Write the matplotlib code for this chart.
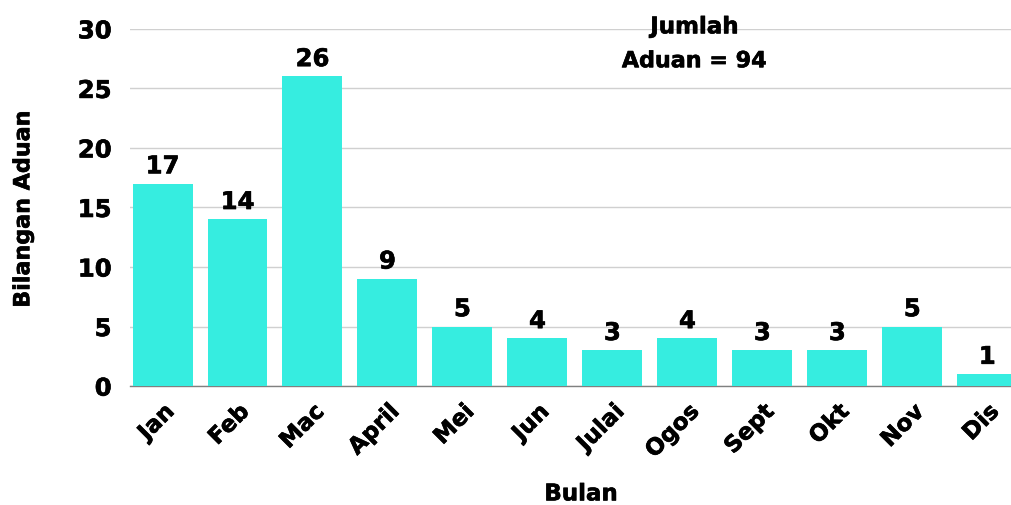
import matplotlib
matplotlib.use("Agg")
import matplotlib.pyplot as plt
import matplotlib.patheffects as pe

months = ["Jan", "Feb", "Mac", "April", "Mei", "Jun", "Julai", "Ogos", "Sept", "Okt", "Nov", "Dis"]
counts = [17, 14, 26, 9, 5, 4, 3, 4, 3, 3, 5, 1]
yticks = [0, 5, 10, 15, 20, 25, 30]

plt.rcParams['font.family'] = ['DejaVu Sans']
W = "bold"
heavy = [pe.withStroke(linewidth=0.45, foreground="black")]

fig = plt.figure(figsize=(10.12, 5.06), dpi=100)
ax = fig.add_axes([0.128, 0.235, 0.872, 0.706])

x = list(range(len(months)))
ax.bar(x, counts, width=0.8, color="#36EDE0", zorder=3)
for xi, v in zip(x, counts):
    ax.text(xi, v + 0.45, str(v), ha="center", va="bottom", fontsize=17.5,
            fontweight=W, color="black", zorder=4, path_effects=heavy)

ax.set_xlim(-0.44, 11.33)
ax.set_ylim(0, 30)
ax.set_yticks(yticks)
ax.set_yticklabels([str(t) for t in yticks], fontsize=17.5, fontweight=W)
ax.set_xticks(x)
ax.set_xticklabels(months, rotation=45, ha="right", rotation_mode="anchor",
                   fontsize=16.5, fontweight=W)
for lab in ax.get_xticklabels() + ax.get_yticklabels():
    lab.set_path_effects(heavy)
ax.tick_params(axis="y", length=0, pad=13)
ax.tick_params(axis="x", length=0, pad=10)
ax.grid(axis="y", color="#d0d0d0", linewidth=1, zorder=0)
for s in ["top", "right", "left"]:
    ax.spines[s].set_visible(False)
ax.spines["bottom"].set_color("#808080")
ax.spines["bottom"].set_linewidth(1)

fig.text(0.023, 0.585, "Bilangan Aduan", rotation=90, ha="center", va="center",
         fontsize=16, fontweight=W, path_effects=heavy)
fig.text(0.574, 0.022, "Bulan", ha="center", va="center", fontsize=16.5,
         fontweight=W, path_effects=heavy)

fig.text(0.686, 0.945, "Jumlah", ha="center", va="center", fontsize=16.5,
         fontweight=W, path_effects=heavy)
fig.text(0.686, 0.877, "Aduan = 94", ha="center", va="center", fontsize=16,
         fontweight=W, path_effects=heavy)

fig.savefig("out.png", dpi=100)
